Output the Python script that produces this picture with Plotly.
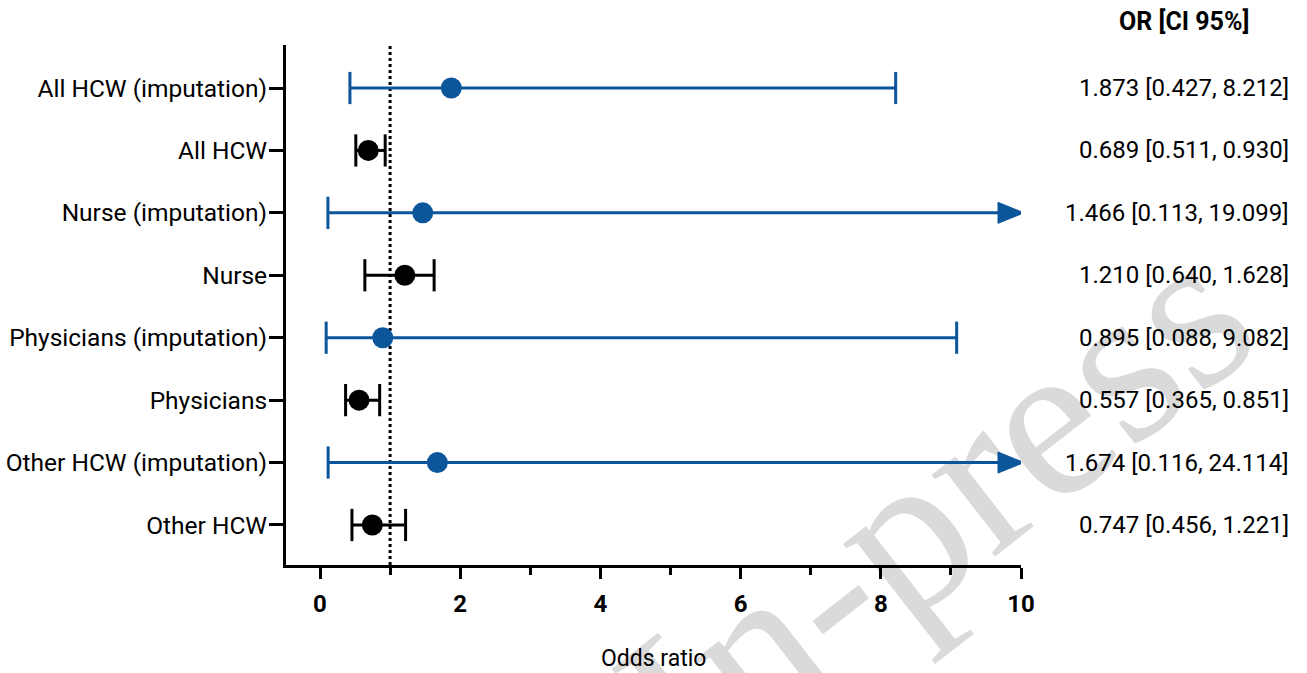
import plotly.graph_objects as go

# ---------------- data ----------------
labels = ["All HCW (imputation)", "All HCW", "Nurse (imputation)", "Nurse",
          "Physicians (imputation)", "Physicians", "Other HCW (imputation)", "Other HCW"]
odds = [1.873, 0.689, 1.466, 1.210, 0.895, 0.557, 1.674, 0.747]
ci_low = [0.427, 0.511, 0.113, 0.640, 0.088, 0.365, 0.116, 0.456]
ci_high = [8.212, 0.930, 19.099, 1.628, 9.082, 0.851, 24.114, 1.221]
imputed = [True, False, True, False, True, False, True, False]
x_ticks = [0, 2, 4, 6, 8, 10]
x_minor_ticks = [1, 3, 5, 7, 9]
ref_line = 1
col_header = "OR [CI 95%]"
x_title = "Odds ratio"
watermark = "In-press"

# ---------------- style ----------------
BLUE = "#0B559B"
BLACK = "#000000"
FONT = "Roboto, sans-serif"
XMIN, XMAX = -0.485, 10.0
W, H = 1307, 673
ML, MR, MT, MB = 286, 286, 45, 108
n = len(labels)
YTOP_PAD, YBOT_PAD = 0.689, 0.641
plot_w = W - ML - MR
plot_h = H - MT - MB
px_x = plot_w / (XMAX - XMIN)
px_y = plot_h / (n - 1 + YTOP_PAD + YBOT_PAD)


def paper_x(px):
    return (px - ML) / plot_w


def paper_y(py):
    return 1 - (py - MT) / plot_h


fig = go.Figure()

for color, flag in [(BLUE, True), (BLACK, False)]:
    idx = [i for i in range(n) if imputed[i] == flag]
    seg_x, seg_y, cap_x, cap_y = [], [], [], []
    for i in idx:
        lo, hi = ci_low[i], ci_high[i]
        cap_x.append(lo); cap_y.append(i)
        if hi > XMAX:
            tip = XMAX + 3 / px_x
            base = XMAX - 23 / px_x
            half = 10.5 / px_y
            seg_x += [lo, base, None]; seg_y += [i, i, None]
            fig.add_trace(go.Scatter(x=[base, tip, base, base], y=[i - half, i, i + half, i - half],
                                     mode="lines", fill="toself", fillcolor=color,
                                     line=dict(color=color, width=1), hoverinfo="skip",
                                     showlegend=False, cliponaxis=False))
        else:
            seg_x += [lo, hi, None]; seg_y += [i, i, None]
            cap_x.append(hi); cap_y.append(i)
    fig.add_trace(go.Scatter(x=seg_x, y=seg_y, mode="lines", line=dict(color=color, width=3),
                             showlegend=False, hoverinfo="skip", cliponaxis=False))
    fig.add_trace(go.Scatter(x=cap_x, y=cap_y, mode="markers",
                             marker=dict(symbol="line-ns", size=23, line=dict(color=color, width=3)),
                             showlegend=False, hoverinfo="skip", cliponaxis=False))
    fig.add_trace(go.Scatter(x=[odds[i] for i in idx], y=idx, mode="markers",
                             marker=dict(symbol="circle", size=21, color=color, line=dict(width=0)),
                             showlegend=False, cliponaxis=False))

# reference line
fig.add_shape(type="line", x0=ref_line, x1=ref_line, xref="x", y0=0, y1=1, yref="paper",
              line=dict(color=BLACK, width=3, dash="dot"), layer="below")

# watermark (behind everything)
wx, wy = paper_x(920), paper_y(488)
fig.add_shape(type="rect", xref="paper", yref="paper", x0=wx - 0.001, x1=wx + 0.001,
              y0=wy - 0.001, y1=wy + 0.001, line=dict(width=0), layer="below",
              label=dict(text=watermark, textangle=-38, textposition="middle center",
                         font=dict(family="Liberation Serif, DejaVu Serif, serif", size=225,
                                   color="#DADADA")))

# right column text
for i in range(n):
    fig.add_annotation(x=paper_x(1291), xref="paper", y=i, yref="y",
                       text=f"{odds[i]:.3f} [{ci_low[i]:.3f}, {ci_high[i]:.3f}]",
                       showarrow=False, xanchor="right", yanchor="middle",
                       font=dict(family=FONT, size=24, color=BLACK))
fig.add_annotation(x=paper_x(1184), y=paper_y(22), xref="paper", yref="paper",
                   text=f"<b>{col_header}</b>", showarrow=False, xanchor="center",
                   yanchor="middle", font=dict(family=FONT, size=25, color=BLACK))
fig.add_annotation(x=paper_x(653), y=paper_y(658), xref="paper", yref="paper",
                   text=x_title, showarrow=False, xanchor="center", yanchor="middle",
                   font=dict(family=FONT, size=23, color=BLACK))

fig.update_xaxes(range=[XMIN, XMAX], tickvals=x_ticks, ticktext=[str(t) for t in x_ticks],
                 showline=True, linecolor=BLACK, linewidth=3, ticks="outside", ticklen=11,
                 tickwidth=3, tickcolor=BLACK, showgrid=False, zeroline=False,
                 ticklabelstandoff=4, automargin=False,
                 tickfont=dict(family=FONT, size=24, color=BLACK, weight="bold"),
                 minor=dict(tickvals=x_minor_ticks, ticks="outside", ticklen=7, tickwidth=3,
                            tickcolor=BLACK, showgrid=False))
fig.update_yaxes(range=[n - 1 + YBOT_PAD, -YTOP_PAD], tickvals=list(range(n)), ticktext=labels,
                 showline=True, linecolor=BLACK, linewidth=3, ticks="outside", ticklen=14,
                 tickwidth=3, tickcolor=BLACK, showgrid=False, zeroline=False,
                 ticklabelstandoff=-3, automargin=False,
                 tickfont=dict(family=FONT, size=24.5, color=BLACK))

fig.update_layout(width=W, height=H, margin=dict(l=ML, r=MR, t=MT, b=MB, pad=0, autoexpand=False),
                  plot_bgcolor="white", paper_bgcolor="white", showlegend=False)

fig.write_html("out.html")
